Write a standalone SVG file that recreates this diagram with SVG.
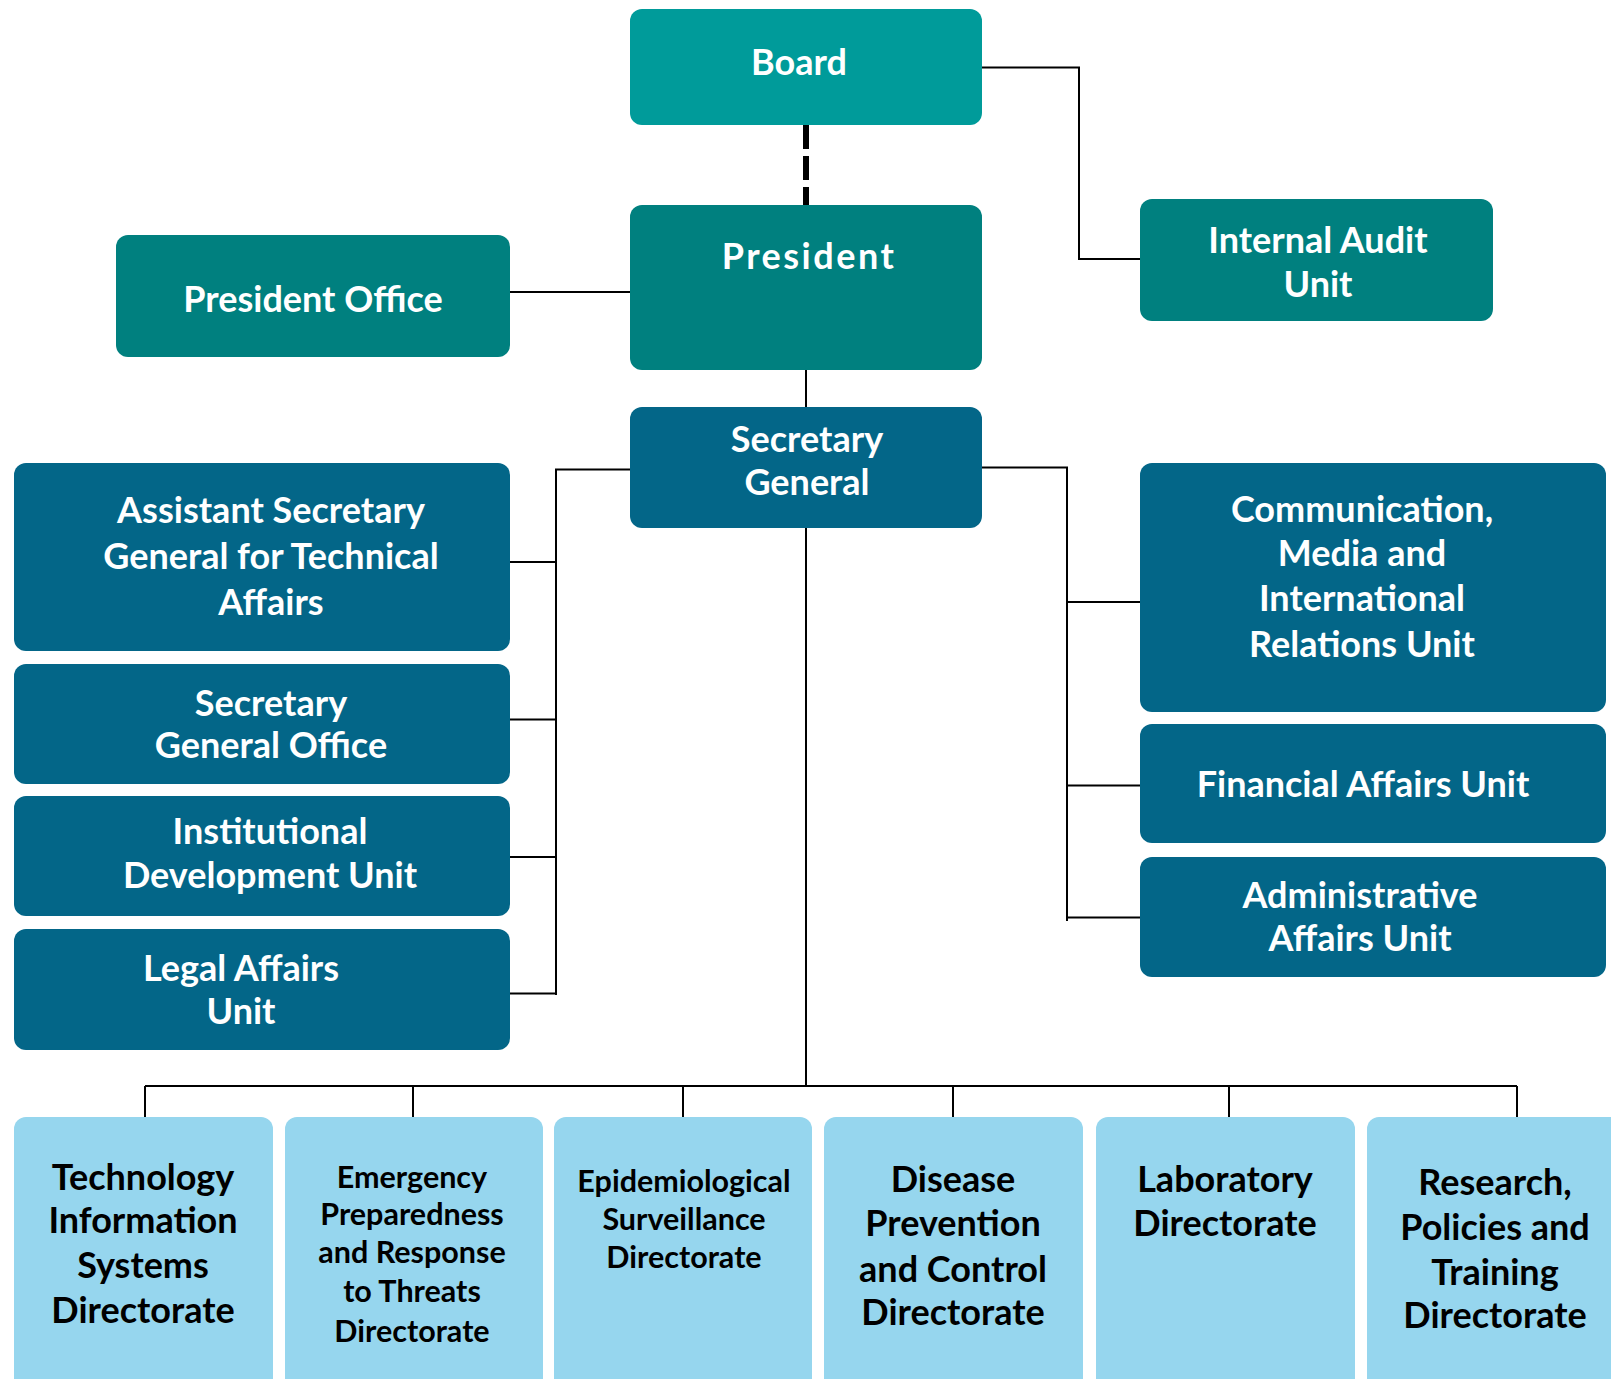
<svg xmlns="http://www.w3.org/2000/svg" width="1611" height="1379" viewBox="0 0 1611 1379">
<style>
.box{stroke:none}
.teal1{fill:#009b9a}
.teal2{fill:#00807f}
.blue{fill:#036688}
.light{fill:#96d6ee}
.wt{font-family:Lato,"Open Sans","Liberation Sans",sans-serif;font-weight:700;font-size:36px;fill:#ffffff;text-anchor:middle}
.bt{font-family:Lato,"Open Sans","Liberation Sans",sans-serif;font-weight:700;font-size:36px;fill:#000000;text-anchor:middle}
.bs{font-size:30.5px}
.ln{fill:none;stroke:#000;stroke-width:2}
</style>
<rect width="1611" height="1379" fill="#ffffff"/>
<g id="connectors">
<path class="ln" d="M982 67.5H1079V259H1140"/>
<path d="M806 125V205" fill="none" stroke="#000" stroke-width="6" stroke-dasharray="24 7"/>
<path class="ln" d="M510 292H631"/>
<path class="ln" d="M806 370V407"/>
<path class="ln" d="M806 528V1086"/>
<path class="ln" d="M145 1086H1517"/>
<path class="ln" d="M145 1086V1117M413 1086V1117M683 1086V1117M953 1086V1117M1229 1086V1117M1517 1086V1117"/>
<path class="ln" d="M630 469.5H556V995"/>
<path class="ln" d="M510 562H556M510 719.5H556M510 857H556M510 993.5H556"/>
<path class="ln" d="M982 467.5H1067V921"/>
<path class="ln" d="M1067 602H1140M1067 785.5H1140M1067 917.5H1140"/>
</g>
<g id="board"><rect class="box teal1" x="630" y="9" width="352" height="116" rx="12"/><text class="wt" x="799" y="75">Board</text></g>
<g id="president"><rect class="box teal2" x="630" y="205" width="352" height="165" rx="12"/><text class="wt" x="809" y="269" style="letter-spacing:2.5px">President</text></g>
<g id="president-office"><rect class="box teal2" x="116" y="235" width="394" height="122" rx="12"/><text class="wt" x="313" y="312">President Office</text></g>
<g id="internal-audit"><rect class="box teal2" x="1140" y="199" width="353" height="122" rx="12"/><text class="wt" x="1318" y="253">Internal Audit</text><text class="wt" x="1318" y="297">Unit</text></g>
<g id="secretary-general"><rect class="box blue" x="630" y="407" width="352" height="121" rx="12"/><text class="wt" x="807" y="452">Secretary</text><text class="wt" x="807" y="495">General</text></g>
<g id="asg"><rect class="box blue" x="14" y="463" width="496" height="188" rx="12"/><text class="wt" x="271" y="523">Assistant Secretary</text><text class="wt" x="271" y="569">General for Technical</text><text class="wt" x="271" y="615">Affairs</text></g>
<g id="sg-office"><rect class="box blue" x="14" y="664" width="496" height="120" rx="12"/><text class="wt" x="271" y="716">Secretary</text><text class="wt" x="271" y="758">General Office</text></g>
<g id="institutional"><rect class="box blue" x="14" y="796" width="496" height="120" rx="12"/><text class="wt" x="270" y="844">Institutional</text><text class="wt" x="270" y="888">Development Unit</text></g>
<g id="legal"><rect class="box blue" x="14" y="929" width="496" height="121" rx="12"/><text class="wt" x="241" y="981">Legal Affairs</text><text class="wt" x="241" y="1024">Unit</text></g>
<g id="communication"><rect class="box blue" x="1140" y="463" width="466" height="249" rx="12"/><text class="wt" x="1362" y="522">Communication,</text><text class="wt" x="1362" y="566">Media and</text><text class="wt" x="1362" y="611">International</text><text class="wt" x="1362" y="657">Relations Unit</text></g>
<g id="financial"><rect class="box blue" x="1140" y="724" width="466" height="119" rx="12"/><text class="wt" x="1363" y="797">Financial Affairs Unit</text></g>
<g id="administrative"><rect class="box blue" x="1140" y="857" width="466" height="120" rx="12"/><text class="wt" x="1360" y="908">Administrative</text><text class="wt" x="1360" y="951">Affairs Unit</text></g>
<g id="tech-info"><rect class="box light" x="14" y="1117" width="259" height="290" rx="12"/><text class="bt" x="143" y="1190">Technology</text><text class="bt" x="143" y="1233">Information</text><text class="bt" x="143" y="1278">Systems</text><text class="bt" x="143" y="1323">Directorate</text></g>
<g id="emergency"><rect class="box light" x="285" y="1117" width="258" height="290" rx="12"/><text class="bt bs" x="412" y="1188">Emergency</text><text class="bt bs" x="412" y="1225">Preparedness</text><text class="bt bs" x="412" y="1263">and Response</text><text class="bt bs" x="412" y="1302">to Threats</text><text class="bt bs" x="412" y="1342">Directorate</text></g>
<g id="epidemiological"><rect class="box light" x="554" y="1117" width="258" height="290" rx="12"/><text class="bt bs" x="684" y="1192">Epidemiological</text><text class="bt bs" x="684" y="1230">Surveillance</text><text class="bt bs" x="684" y="1268">Directorate</text></g>
<g id="disease"><rect class="box light" x="824" y="1117" width="259" height="290" rx="12"/><text class="bt" x="953" y="1192">Disease</text><text class="bt" x="953" y="1236">Prevention</text><text class="bt" x="953" y="1282">and Control</text><text class="bt" x="953" y="1325">Directorate</text></g>
<g id="laboratory"><rect class="box light" x="1096" y="1117" width="259" height="290" rx="12"/><text class="bt" x="1225" y="1192">Laboratory</text><text class="bt" x="1225" y="1236">Directorate</text></g>
<g id="research"><rect class="box light" x="1367" y="1117" width="258" height="290" rx="12"/><text class="bt" x="1495" y="1195">Research,</text><text class="bt" x="1495" y="1240">Policies and</text><text class="bt" x="1495" y="1285">Training</text><text class="bt" x="1495" y="1328">Directorate</text></g>
</svg>
